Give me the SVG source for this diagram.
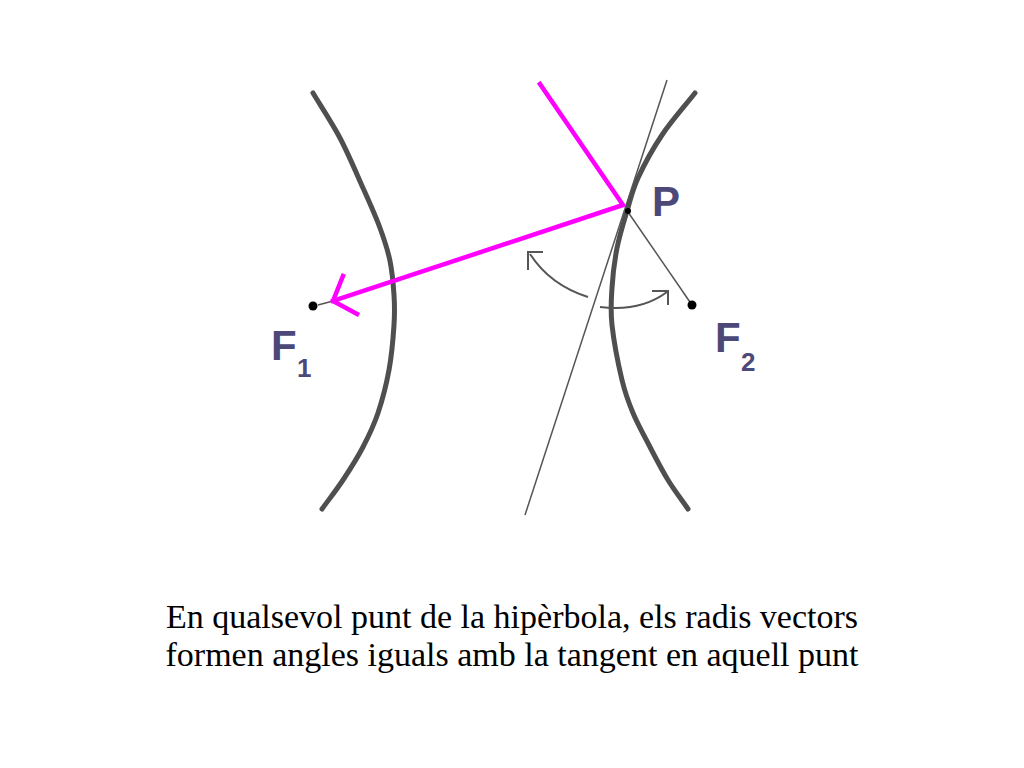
<svg xmlns="http://www.w3.org/2000/svg" width="1024" height="768" viewBox="0 0 1024 768">
<style>
.branch{fill:none;stroke:#4f4f4f;stroke-width:5;stroke-linecap:round}
.thin{fill:none;stroke:#555;stroke-width:1.5}
.arc{fill:none;stroke:#555;stroke-width:2}
.ray{fill:none;stroke:#ff00ff;stroke-width:4.5;stroke-linecap:square;stroke-linejoin:miter}
.dot{fill:#000}
.lbl{font-family:"Liberation Sans",Arial,sans-serif;font-weight:bold;fill:#4c4878}
.cap{font-family:"Liberation Serif","Times New Roman",serif;font-size:34px;fill:#000;text-anchor:middle}
</style>
<rect width="1024" height="768" fill="#fff"/>
<g id="left-branch">
<path class="branch" d="M313,93 C322,108 331.7,122.2 340,138 C348.3,153.8 356.3,173 363,188 C369.7,203 375.5,215.8 380,228 C384.5,240.2 387.7,249.8 390,261 C392.3,272.2 393.3,284.3 394,295 C394.7,305.7 394.8,312.5 394,325 C393.2,337.5 391.7,355.3 389,370 C386.3,384.7 382.3,400.2 378,413 C373.7,425.8 368.8,435.8 363,447 C357.2,458.2 349.8,469.7 343,480 C336.2,490.3 329,499.3 322,509"/>
</g>
<g id="right-branch">
<path class="branch" d="M695,93 C684,107 671.5,120.8 662,135 C652.5,149.2 643.8,165.3 638,178 C632.2,190.7 630.5,199.3 627,211 C623.5,222.7 619.5,235.2 617,248 C614.5,260.8 612.8,275.2 612,288 C611.2,300.8 610.3,309.7 612,325 C613.7,340.3 618.5,365.3 622,380 C625.5,394.7 628.3,401.8 633,413 C637.7,424.2 644.2,435.8 650,447 C655.8,458.2 661.7,469.7 668,480 C674.3,490.3 681.3,499.3 688,509"/>
</g>
<g id="connectors">
<line id="tangent" class="thin" x1="667" y1="80" x2="525" y2="515"/>
<line id="radius-P-F2" class="thin" x1="628" y1="212" x2="692" y2="305"/>
<line id="radius-F1" class="thin" x1="318" y1="305" x2="333" y2="301"/>
<polyline id="incident-ray" class="ray" points="540,84 623,205 333,301"/>
<polyline id="ray-head" class="ray" points="343,276 333,301 357,314"/>
<path id="angle-left" class="arc" d="M588,297 Q550,285 530,254"/>
<polyline class="arc" points="543,252 528,252 528,270"/>
<path id="angle-right" class="arc" d="M600,307 Q640,312 667,292"/>
<polyline class="arc" points="652,291 668,291 668,305"/>
</g>
<g id="point-P">
<circle class="dot" cx="628" cy="211" r="3"/>
<text class="lbl" x="652" y="216" font-size="42">P</text>
</g>
<g id="focus-F1">
<circle class="dot" cx="313" cy="306" r="4.5"/>
<text class="lbl" x="271" y="360" font-size="42">F</text>
<text class="lbl" x="297" y="377" font-size="26">1</text>
</g>
<g id="focus-F2">
<circle class="dot" cx="692" cy="305" r="4.5"/>
<text class="lbl" x="715" y="352" font-size="42">F</text>
<text class="lbl" x="741" y="371" font-size="26">2</text>
</g>
<g id="caption">
<text class="cap" x="512" y="628">En qualsevol punt de la hipèrbola, els radis vectors</text>
<text class="cap" x="512" y="666">formen angles iguals amb la tangent en aquell punt</text>
</g>
</svg>
